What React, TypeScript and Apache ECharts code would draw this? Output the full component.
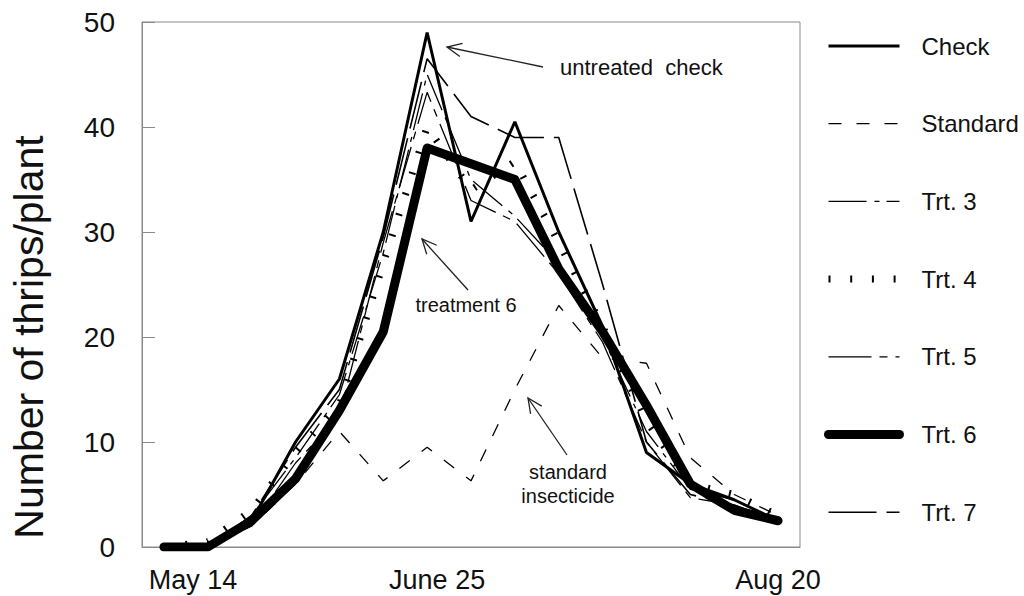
import React, { useEffect, useRef } from "react";
import * as echarts from "echarts";

// ---- Data ----
const weeks = [
  "May 14", "May 21", "May 28", "June 4", "June 11", "June 18", "June 25",
  "July 2", "July 9", "July 16", "July 23", "July 30", "Aug 6", "Aug 13", "Aug 20",
];
const shownTickLabels = ["May 14", "June 25", "Aug 20"];

const check = [0, 0, 2.5, 10, 16, 30, 49, 31, 40.5, 30, 21, 9, 6, 4.5, 2.5];
const standard = [0, 0, 2, 6, 11, 6.3, 9.5, 6.3, 15, 23, 18, 17.5, 8.5, 5, 3];
const trt3 = [0, 0, 3, 8.5, 14.5, 28, 45, 35, 31.5, 27, 20, 11, 5.5, 4.5, 2.5];
const trt4 = [0, 0.5, 3.5, 9, 13.5, 27, 40, 34, 36.7, 29, 21, 12, 6, 5, 3];
const trt5 = [0, 0, 2, 8, 12.5, 29, 43.3, 33, 31, 26, 19.5, 10, 4.7, 4, 2.5];
const trt6 = [0, 0, 2.5, 6.5, 13, 20.5, 38, 36.5, 35, 26.5, 20.5, 13.5, 6, 3.5, 2.5];
const trt7 = [0, 0, 3, 9.5, 15, 29.5, 46.5, 41, 39, 39, 25, 10, 5, 4, 2.5];

const seriesNames = ["Check", "Standard", "Trt. 3", "Trt. 4", "Trt. 5", "Trt. 6", "Trt. 7"];

const FONT = "'Liberation Sans', Arial, sans-serif";
const AXIS_GREY = "#8a8a8a";

function arrow(x1: number, y1: number, x2: number, y2: number) {
  // tail (x1,y1) -> tip (x2,y2), open arrowhead
  const dx = x1 - x2;
  const dy = y1 - y2;
  const len = Math.sqrt(dx * dx + dy * dy);
  const ux = dx / len;
  const uy = dy / len;
  const a = (25 * Math.PI) / 180;
  const L = 16;
  const r1x = ux * Math.cos(a) - uy * Math.sin(a);
  const r1y = ux * Math.sin(a) + uy * Math.cos(a);
  const r2x = ux * Math.cos(-a) - uy * Math.sin(-a);
  const r2y = ux * Math.sin(-a) + uy * Math.cos(-a);
  const style = { stroke: "#222", lineWidth: 1.3, fill: null };
  return [
    { type: "line", shape: { x1, y1, x2, y2 }, style },
    {
      type: "polyline",
      shape: {
        points: [
          [x2 + r1x * L, y2 + r1y * L],
          [x2, y2],
          [x2 + r2x * L, y2 + r2y * L],
        ],
      },
      style,
    },
  ];
}

export default function App() {
  const ref = useRef<HTMLDivElement>(null);

  useEffect(() => {
    if (!ref.current) return;
    const chart = echarts.init(ref.current, null, { renderer: "svg" });

    const styles: any[] = [
      { width: 3, type: "solid" },
      { width: 1.3, type: [13, 15] },
      { width: 1.3, type: [38, 8, 5, 7] },
      { width: 7, type: [2, 19.7], cap: "butt" },
      { width: 1.3, type: [43, 8, 8, 8] },
      { width: 9, type: "solid", cap: "round", join: "round" },
      { width: 1.6, type: [48, 10] },
    ];
    const datasets = [check, standard, trt3, trt4, trt5, trt6, trt7];

    const series = seriesNames.map((name, i) => ({
      name,
      type: "line",
      data: datasets[i],
      symbol: "none",
      showSymbol: false,
      z: i === 5 ? 3 : 2,
      itemStyle: { color: "#000", opacity: 0 },
      lineStyle: { color: "#000", ...styles[i] },
    }));

    const option: any = {
      animation: false,
      backgroundColor: "#fff",
      textStyle: { fontFamily: FONT },
      grid: {
        left: 141,
        right: 224,
        top: 22,
        bottom: 49,
        show: true,
        borderColor: AXIS_GREY,
        borderWidth: 1,
      },
      legend: {
        orient: "vertical",
        left: 824,
        top: 34,
        padding: 0,
        itemWidth: 71,
        itemHeight: 24,
        itemGap: 53.7,
        data: seriesNames,
        itemStyle: { opacity: 0 },
        lineStyle: { width: "inherit", type: "inherit", cap: "inherit", color: "#000" },
        textStyle: {
          fontFamily: FONT,
          fontSize: 24,
          color: "#111",
          lineHeight: 24,
          padding: [0, 0, 0, 17],
        },
      },
      xAxis: {
        type: "category",
        data: weeks,
        boundaryGap: true,
        axisLine: { lineStyle: { color: AXIS_GREY, width: 1 } },
        axisTick: {
          inside: true,
          alignWithLabel: true,
          interval: 0,
          length: 10,
          lineStyle: { color: AXIS_GREY },
        },
        axisLabel: {
          interval: 0,
          margin: 19,
          fontFamily: FONT,
          fontSize: 27,
          color: "#111",
          formatter: (v: string) => {
            if (v === shownTickLabels[0]) return "{a|" + v + "}";
            if (v === shownTickLabels[1]) return "{b|" + v + "}";
            if (v === shownTickLabels[2]) return "{c|" + v + "}";
            return "";
          },
          rich: {
            a: { fontSize: 27, fontFamily: FONT, color: "#111", padding: [0, 0, 0, 58] },
            b: { fontSize: 27, fontFamily: FONT, color: "#111", padding: [0, 0, 0, 20] },
            c: { fontSize: 27, fontFamily: FONT, color: "#111" },
          },
        },
        splitLine: { show: false },
      },
      yAxis: {
        type: "value",
        min: 0,
        max: 50,
        interval: 10,
        name: "Number of thrips/plant",
        nameLocation: "middle",
        nameGap: 93,
        nameTextStyle: {
          fontFamily: FONT,
          fontSize: 41,
          color: "#111",
          padding: [0, 105, 0, 0],
        },
        axisLine: { show: true, lineStyle: { color: AXIS_GREY, width: 1 } },
        axisTick: { show: true, inside: true, length: 13, lineStyle: { color: AXIS_GREY } },
        axisLabel: { margin: 27, fontFamily: FONT, fontSize: 28, color: "#111" },
        splitLine: { show: false },
      },
      graphic: [
        {
          type: "text",
          x: 560,
          y: 67,
          style: {
            text: "untreated  check",
            font: "22px " + FONT,
            fill: "#111",
            verticalAlign: "middle",
            align: "left",
          },
        },
        ...arrow(543, 67, 447, 47),
        {
          type: "text",
          x: 466,
          y: 305,
          style: {
            text: "treatment 6",
            font: "20px " + FONT,
            fill: "#111",
            verticalAlign: "middle",
            align: "center",
          },
        },
        ...arrow(468, 290, 422, 239),
        {
          type: "text",
          x: 568,
          y: 472,
          style: {
            text: "standard",
            font: "20px " + FONT,
            fill: "#111",
            verticalAlign: "middle",
            align: "center",
          },
        },
        {
          type: "text",
          x: 568,
          y: 496,
          style: {
            text: "insecticide",
            font: "20px " + FONT,
            fill: "#111",
            verticalAlign: "middle",
            align: "center",
          },
        },
        ...arrow(567, 455, 528, 398),
      ],
      series,
    };

    chart.setOption(option);
    return () => chart.dispose();
  }, []);

  return (
    <div
      ref={ref}
      style={{ width: 1024, height: 596, position: "absolute", left: 0, top: 0 }}
    />
  );
}
